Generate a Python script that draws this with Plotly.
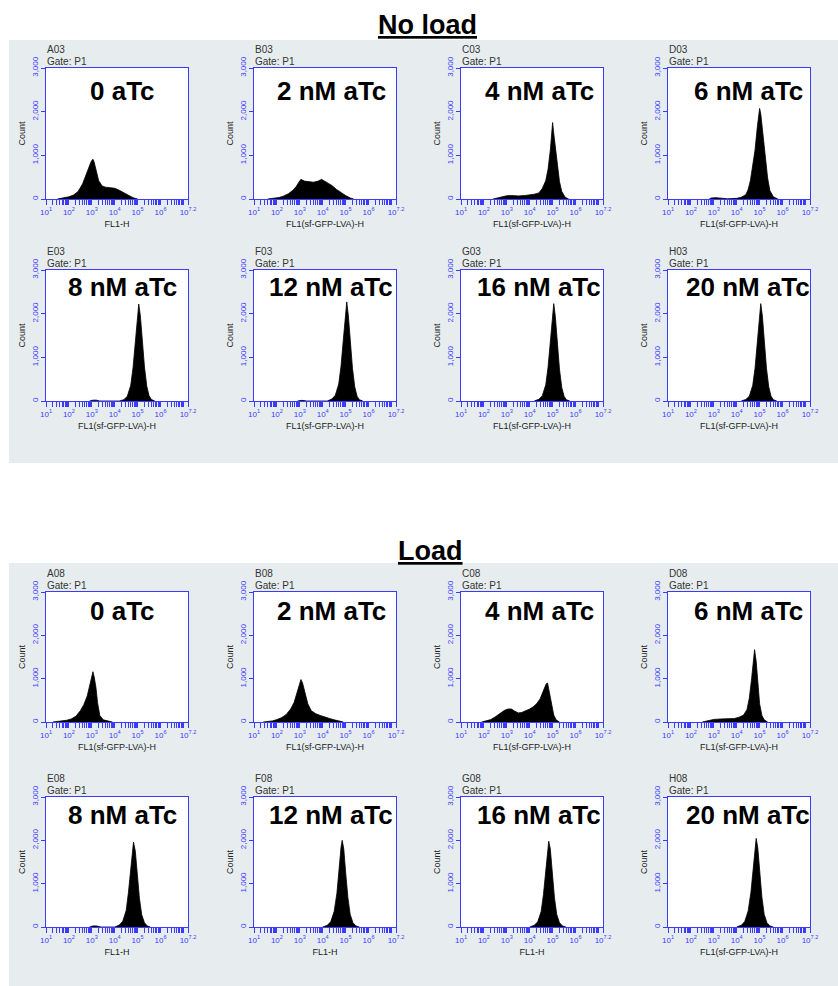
import plotly.graph_objects as go

# ---------------- data (log10 fluorescence position, cell count) ----------------
group_titles = ["No load", "Load"]
panel_codes = ["A03", "B03", "C03", "D03", "E03", "F03", "G03", "H03",
               "A08", "B08", "C08", "D08", "E08", "F08", "G08", "H08"]
panel_labels = ["0 aTc", "2 nM aTc", "4 nM aTc", "6 nM aTc",
                "8 nM aTc", "12 nM aTc", "16 nM aTc", "20 nM aTc",
                "0 aTc", "2 nM aTc", "4 nM aTc", "6 nM aTc",
                "8 nM aTc", "12 nM aTc", "16 nM aTc", "20 nM aTc"]
gate_text = "Gate: P1"
x_titles = ["FL1-H", "FL1(sf-GFP-LVA)-H", "FL1(sf-GFP-LVA)-H", "FL1(sf-GFP-LVA)-H",
            "FL1(sf-GFP-LVA)-H", "FL1(sf-GFP-LVA)-H", "FL1(sf-GFP-LVA)-H", "FL1(sf-GFP-LVA)-H",
            "FL1(sf-GFP-LVA)-H", "FL1(sf-GFP-LVA)-H", "FL1(sf-GFP-LVA)-H", "FL1(sf-GFP-LVA)-H",
            "FL1-H", "FL1-H", "FL1-H", "FL1(sf-GFP-LVA)-H"]
y_title = "Count"
y_tick_vals = [0, 1000, 2000, 3000]
y_tick_text = ["0", "1,000", "2,000", "3,000"]
x_tick_exps = [1, 2, 3, 4, 5, 6, 7.2]

# No load
a03_log = [1.5, 1.8, 2.0, 2.2, 2.4, 2.6, 2.75, 2.85, 2.95, 3.0, 3.05, 3.1, 3.2, 3.3, 3.45, 3.6, 3.8, 4.0, 4.2, 4.4, 4.6, 4.8, 5.0]
a03_cnt = [0, 20, 50, 90, 170, 350, 560, 720, 830, 880, 910, 850, 640, 420, 300, 270, 260, 245, 200, 140, 80, 30, 0]
b03_log = [1.6, 1.9, 2.1, 2.3, 2.5, 2.7, 2.85, 2.95, 3.05, 3.2, 3.4, 3.6, 3.8, 3.95, 4.05, 4.2, 4.4, 4.6, 4.8, 5.0, 5.2, 5.35]
b03_cnt = [0, 15, 35, 70, 120, 200, 290, 380, 450, 410, 390, 385, 410, 450, 420, 380, 310, 220, 140, 80, 25, 0]
c03_log = [2.4, 2.7, 3.0, 3.2, 3.5, 3.8, 4.0, 4.2, 4.4, 4.55, 4.7, 4.8, 4.9, 4.95, 5.0, 5.05, 5.12, 5.2, 5.3, 5.4, 5.55, 5.7]
c03_cnt = [0, 40, 75, 80, 70, 80, 90, 110, 140, 240, 420, 680, 1120, 1450, 1750, 1500, 1200, 800, 400, 170, 40, 0]
d03_log = [2.8, 2.9, 3.1, 3.3, 3.45, 3.6, 4.0, 4.2, 4.4, 4.5, 4.6, 4.7, 4.8, 4.9, 4.95, 5.0, 5.05, 5.15, 5.25, 5.35, 5.45, 5.6, 5.8]
d03_cnt = [0, 25, 30, 25, 10, 5, 15, 40, 100, 220, 430, 750, 1120, 1650, 1900, 2075, 1950, 1500, 950, 480, 190, 50, 0]
e03_log = [2.9, 3.05, 3.2, 3.35, 4.2, 4.4, 4.55, 4.7, 4.8, 4.9, 4.97, 5.05, 5.12, 5.2, 5.3, 5.4, 5.5, 5.6, 5.75]
e03_cnt = [0, 20, 20, 0, 0, 30, 110, 360, 760, 1350, 1850, 2220, 1950, 1400, 780, 340, 120, 35, 0]
f03_log = [2.9, 3.1, 3.3, 4.2, 4.4, 4.55, 4.7, 4.8, 4.9, 4.98, 5.05, 5.12, 5.2, 5.3, 5.4, 5.5, 5.6, 5.75]
f03_cnt = [0, 15, 0, 0, 45, 130, 390, 800, 1400, 1950, 2270, 1950, 1380, 750, 320, 110, 30, 0]
g03_log = [4.2, 4.4, 4.55, 4.7, 4.8, 4.9, 4.98, 5.05, 5.12, 5.2, 5.3, 5.4, 5.5, 5.6, 5.75]
g03_cnt = [0, 40, 120, 370, 770, 1350, 1900, 2230, 1930, 1360, 730, 310, 110, 30, 0]
h03_log = [4.2, 4.4, 4.55, 4.7, 4.8, 4.9, 4.98, 5.05, 5.12, 5.2, 5.3, 5.4, 5.5, 5.6, 5.75]
h03_cnt = [0, 35, 110, 360, 750, 1330, 1880, 2230, 1950, 1380, 750, 320, 110, 30, 0]

# Load
a08_log = [1.3, 1.6, 1.9, 2.1, 2.3, 2.5, 2.65, 2.8, 2.9, 3.0, 3.05, 3.1, 3.18, 3.25, 3.35, 3.5, 3.7, 3.9]
a08_cnt = [0, 15, 40, 70, 130, 260, 400, 600, 820, 1100, 1160, 1050, 800, 450, 150, 50, 20, 0]
b08_log = [1.4, 1.8, 2.0, 2.2, 2.4, 2.6, 2.75, 2.9, 3.0, 3.05, 3.12, 3.2, 3.35, 3.5, 3.7, 3.9, 4.1, 4.3, 4.5, 4.7, 4.9]
b08_cnt = [0, 25, 55, 100, 170, 300, 450, 720, 930, 980, 900, 720, 420, 260, 190, 150, 110, 80, 50, 30, 0]
c08_log = [1.9, 2.1, 2.3, 2.5, 2.7, 2.9, 3.05, 3.2, 3.35, 3.5, 3.65, 3.8, 4.0, 4.15, 4.3, 4.45, 4.55, 4.65, 4.72, 4.78, 4.85, 4.95, 5.05, 5.15, 5.3]
c08_cnt = [0, 20, 55, 120, 200, 270, 300, 300, 250, 210, 220, 250, 300, 350, 420, 530, 650, 800, 880, 900, 700, 400, 160, 50, 0]
d08_log = [2.5, 2.8, 3.0, 3.3, 3.6, 3.9, 4.1, 4.3, 4.45, 4.55, 4.65, 4.72, 4.78, 4.85, 4.92, 5.0, 5.1, 5.2, 5.35]
d08_cnt = [0, 40, 60, 70, 70, 80, 110, 160, 290, 550, 1000, 1450, 1670, 1400, 900, 420, 150, 50, 0]
e08_log = [2.9, 3.05, 3.2, 3.4, 4.0, 4.2, 4.35, 4.5, 4.6, 4.7, 4.77, 4.82, 4.9, 4.98, 5.08, 5.18, 5.3, 5.42, 5.55]
e08_cnt = [0, 25, 25, 0, 0, 45, 130, 380, 800, 1400, 1830, 1960, 1750, 1220, 660, 280, 100, 25, 0]
f08_log = [4.0, 4.2, 4.35, 4.5, 4.62, 4.72, 4.8, 4.85, 4.92, 5.0, 5.1, 5.2, 5.32, 5.45, 5.6]
f08_cnt = [0, 40, 120, 360, 780, 1400, 1840, 2000, 1800, 1270, 680, 290, 100, 25, 0]
g08_log = [4.0, 4.2, 4.35, 4.5, 4.6, 4.7, 4.78, 4.83, 4.9, 4.98, 5.08, 5.18, 5.3, 5.43, 5.58]
g08_cnt = [0, 40, 120, 360, 750, 1350, 1820, 1980, 1800, 1270, 680, 290, 100, 25, 0]
h08_log = [4.0, 4.2, 4.35, 4.5, 4.62, 4.72, 4.8, 4.85, 4.92, 5.0, 5.1, 5.2, 5.32, 5.45, 5.6]
h08_cnt = [0, 40, 125, 370, 800, 1430, 1890, 2045, 1830, 1290, 690, 290, 100, 25, 0]

hist_logs = [a03_log, b03_log, c03_log, d03_log, e03_log, f03_log, g03_log, h03_log,
             a08_log, b08_log, c08_log, d08_log, e08_log, f08_log, g08_log, h08_log]
hist_cnts = [a03_cnt, b03_cnt, c03_cnt, d03_cnt, e03_cnt, f03_cnt, g03_cnt, h03_cnt,
             a08_cnt, b08_cnt, c08_cnt, d08_cnt, e08_cnt, f08_cnt, g08_cnt, h08_cnt]

# ---------------- layout geometry (pixels) ----------------
W, H = 838, 986
col_left = [46, 254, 461, 668]
box_w = 142
row_top = [68, 270, 592, 797]
row_bot = [199, 401, 722, 927]
label_dx = [5, 6, 7, 9]
label_dy = [23, 17, 19, 18]
gray_boxes = [(9, 40, 838, 463), (9, 563, 838, 986)]
title_pos = [(428, 25), (430, 551)]

FONT = "Liberation Sans, Arial, sans-serif"
BLUE = "#3b3bff"
GRAY = "#e7edef"

def px(x):
    return x / W

def py(y):
    return 1 - y / H

fig = go.Figure()
shapes = []
annotations = []

for (x0, y0, x1, y1) in gray_boxes:
    shapes.append(dict(type="rect", xref="paper", yref="paper", x0=px(x0), x1=px(x1),
                       y0=py(y1), y1=py(y0), fillcolor=GRAY, line=dict(width=0), layer="below"))

minor_vals = []
for d in range(1, 7):
    for k in range(2, 10):
        minor_vals.append(k * 10 ** d)
minor_vals.append(10 ** 7)

for i in range(16):
    r, c = i // 4, i % 4
    n = i + 1
    xa = "x" if n == 1 else f"x{n}"
    ya = "y" if n == 1 else f"y{n}"
    left, right = col_left[c], col_left[c] + box_w
    top, bot = row_top[r], row_bot[r]

    shapes.append(dict(type="rect", xref="paper", yref="paper", x0=px(left), x1=px(right),
                       y0=py(bot), y1=py(top), fillcolor="white", line=dict(width=0), layer="below"))

    fig.add_trace(go.Scatter(
        x=[10 ** v for v in hist_logs[i]], y=hist_cnts[i],
        mode="lines", fill="tozeroy", fillcolor="black",
        line=dict(color="black", width=0.8), xaxis=xa, yaxis=ya, showlegend=False,
        hoverinfo="skip"))

    xkey = "xaxis" if n == 1 else f"xaxis{n}"
    ykey = "yaxis" if n == 1 else f"yaxis{n}"
    fig.layout[xkey] = dict(
        domain=[px(left), px(right)], anchor=ya, type="log", range=[1, 7.2],
        automargin=False,
        showgrid=False, zeroline=False, showline=True, mirror=True, linecolor=BLUE, linewidth=1,
        ticks="outside", ticklen=5, tickcolor=BLUE, tickwidth=1,
        tickvals=[10 ** e for e in x_tick_exps],
        ticktext=[f"10<sup>{e}</sup>" for e in x_tick_exps],
        tickfont=dict(family=FONT, size=8, color=BLUE),
        minor=dict(tickvals=minor_vals, ticks="outside", ticklen=5, tickcolor=BLUE, tickwidth=1,
                   showgrid=False),
        title=dict(text=x_titles[i], font=dict(family=FONT, size=9, color="#222"), standoff=5),
        fixedrange=True)
    fig.layout[ykey] = dict(
        domain=[py(bot), py(top)], anchor=xa, range=[0, 3000],
        automargin=False,
        showgrid=False, zeroline=False, showline=True, mirror=True, linecolor=BLUE, linewidth=1,
        ticks="outside", ticklen=4, tickcolor=BLUE, tickwidth=1,
        tickvals=y_tick_vals, ticktext=y_tick_text, tickangle=-90,
        tickfont=dict(family=FONT, size=8, color=BLUE),
        title=dict(text=y_title, font=dict(family=FONT, size=9, color="#222"), standoff=3),
        fixedrange=True)

    annotations.append(dict(text=panel_codes[i], xref="paper", yref="paper", x=px(left - 1),
                            y=py(top - 19), xanchor="left", yanchor="middle", showarrow=False,
                            font=dict(family=FONT, size=10, color="#333")))
    annotations.append(dict(text=gate_text, xref="paper", yref="paper", x=px(left - 1),
                            y=py(top - 7), xanchor="left", yanchor="middle", showarrow=False,
                            font=dict(family=FONT, size=10, color="#333")))
    annotations.append(dict(text=f"<b>{panel_labels[i]}</b>", xref="paper", yref="paper",
                            x=px((left + right) / 2 + label_dx[c]), y=py(top + label_dy[r]),
                            xanchor="center", yanchor="middle", showarrow=False,
                            font=dict(family=FONT, size=26, color="black")))

for t, (tx, ty) in zip(group_titles, title_pos):
    annotations.append(dict(text=f"<b><u>{t}</u></b>", xref="paper", yref="paper",
                            x=px(tx), y=py(ty), xanchor="center", yanchor="middle",
                            showarrow=False, font=dict(family=FONT, size=27, color="black")))

fig.update_layout(width=W, height=H, margin=dict(l=0, r=0, t=0, b=0, autoexpand=False),
                  paper_bgcolor="white", plot_bgcolor="white",
                  shapes=shapes, annotations=annotations, showlegend=False)

fig.write_html("out.html")
